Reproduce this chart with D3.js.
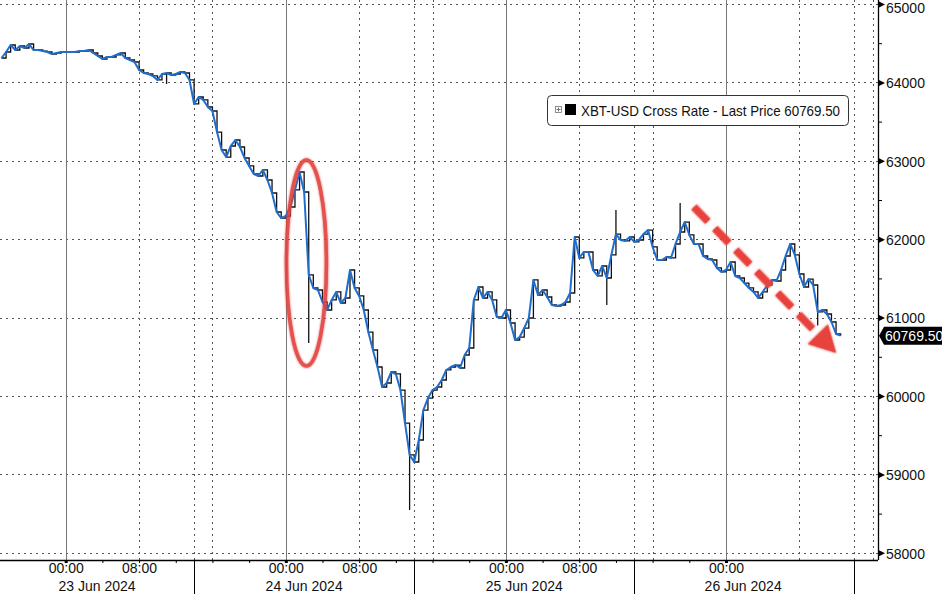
<!DOCTYPE html>
<html><head><meta charset="utf-8">
<script src="https://cdn.jsdelivr.net/npm/d3@7"></script>
<style>
html,body{margin:0;padding:0;background:#fff;}
svg{display:block;font-family:"Liberation Sans",Arial,sans-serif;}
</style></head>
<body><svg id="c" width="942" height="594"></svg>
<script>
// ---- data ----
const seriesName = "XBT-USD Cross Rate - Last Price";
const lastPrice = 60769.50;
const startTime = "2024-06-22T17:00:00Z";   // first point, 30-minute steps
const stepMinutes = 30;
const prices = [
64311,64388,64477,64413,64464,64439,64490,64413,64413,64400,
64388,64362,64375,64388,64388,64388,64388,64400,64400,64413,
64375,64337,64298,64324,64324,64350,64375,64311,64286,64260,
64158,64120,64107,64082,64031,64107,64120,64094,64107,64133,
64120,64031,63725,63814,63776,63686,63635,63367,63138,63048,
63189,63265,63176,63036,62934,62832,62806,62883,62755,62589,
62347,62270,62296,62411,62628,62857,62602,61544,61378,61352,
61199,61097,61225,61327,61186,61250,61607,61378,61276,61097,
60816,60587,60370,60115,60166,60306,60281,60076,59655,59248,
59158,59439,59821,59974,60076,60115,60204,60332,60370,60395,
60357,60523,60612,61225,61390,61250,61327,61225,61008,60995,
61097,60931,60714,60752,60867,60995,61480,61288,61352,61263,
61161,61148,61161,61199,61314,62028,61761,61837,61837,61607,
61531,61658,61505,61799,62066,61990,61978,62028,61965,61990,
62066,62117,61901,61735,61735,61773,61761,61939,62092,62219,
62054,61939,61939,61786,61748,61735,61633,61582,61607,61709,
61531,61505,61441,61378,61327,61250,61327,61416,61480,61467,
61607,61786,61939,61799,61556,61390,61492,61416,61072,61097,
61046,60944,60791,60769.5
];
// notable intraday extremes (wicks)
const wickTimes  = ["2024-06-23T11:00:00Z","2024-06-24T02:30:00Z","2024-06-24T13:30:00Z","2024-06-25T12:00:00Z","2024-06-25T11:00:00Z","2024-06-25T19:00:00Z","2024-06-26T10:00:00Z"];
const wickValues = [63980,60676,58546,62372,61161,62462,60900];
const yTicks = [58000,59000,60000,61000,62000,63000,64000,65000];
const yMinorTicks = [58500,59500,60500,61500,62500,63500,64500];
const dayLabels = ["23 Jun 2024","24 Jun 2024","25 Jun 2024","26 Jun 2024"];
const sectionBreaks = ["2024-06-22T14:00:00Z","2024-06-23T14:00:00Z","2024-06-24T14:00:00Z","2024-06-25T14:00:00Z","2024-06-26T14:00:00Z"];

// ---- build ----
const t0 = new Date(startTime).getTime();
const data = prices.map((v,i)=>({t:new Date(t0+i*stepMinutes*60000), v}));
const wicks = wickTimes.map((t,i)=>({t:new Date(t), v:wickValues[i]}));

const svg = d3.select("#c");
const plotR = 878, plotB = 560;
const x = d3.scaleUtc().domain([new Date("2024-06-23T00:00:00Z"), new Date("2024-06-26T00:00:00Z")]).range([65.7, 726]);
const y = d3.scaleLinear().domain([58000,65000]).range([552.8,4]);

const g = svg.append("g");
// horizontal grid
g.selectAll("line.hg").data(yTicks).join("line")
 .attr("x1",0).attr("x2",plotR).attr("y1",d=>Math.round(y(d))+0.5).attr("y2",d=>Math.round(y(d))+0.5)
 .attr("stroke","#555").attr("stroke-width",1).attr("stroke-dasharray","2,4");
// vertical grid
const vTimes = d3.utcHour.every(8).range(new Date("2024-06-22T16:00:00Z"), new Date("2024-06-26T20:00:00Z"));
g.selectAll("line.vg").data(vTimes).join("line")
 .attr("x1",d=>Math.round(x(d))+0.5).attr("x2",d=>Math.round(x(d))+0.5).attr("y1",0).attr("y2",plotB)
 .attr("stroke",d=>d.getUTCHours()===0?"#777":"#555")
 .attr("stroke-dasharray",d=>d.getUTCHours()===0?null:"2,4");
// section break grid
const breaks = sectionBreaks.map(s=>new Date(s));
g.selectAll("line.sb").data(breaks).join("line")
 .attr("x1",d=>Math.round(x(d))+0.5).attr("x2",d=>Math.round(x(d))+0.5).attr("y1",0).attr("y2",plotB)
 .attr("stroke","#555").attr("stroke-dasharray","2,4");

// wicks
g.selectAll("line.wk").data(wicks).join("line")
 .attr("x1",d=>x(d.t)).attr("x2",d=>x(d.t))
 .attr("y1",d=>{const near=data.reduce((a,b)=>Math.abs(b.t-d.t)<Math.abs(a.t-d.t)?b:a);return y(near.v);})
 .attr("y2",d=>y(d.v)).attr("stroke","#111").attr("stroke-width",1.3);

// black step trace
const step = d3.line().x(d=>x(d.t)).y(d=>y(d.v)).curve(d3.curveStepAfter);
g.append("path").datum(data).attr("d",step).attr("fill","none").attr("stroke","#111").attr("stroke-width",1.3);
// blue line
const line = d3.line().x(d=>x(d.t)).y(d=>y(d.v));
g.append("path").datum(data).attr("d",line).attr("fill","none").attr("stroke","#1f6dcc").attr("stroke-width",2).attr("stroke-linejoin","round");

// right axis
svg.append("line").attr("x1",plotR+0.5).attr("x2",plotR+0.5).attr("y1",0).attr("y2",plotB).attr("stroke","#000").attr("stroke-width",1.3);
const yAxis = d3.axisRight(y).tickValues(yTicks).tickSize(0).tickPadding(8).tickFormat(d3.format("d"));
const ya = svg.append("g").attr("transform",`translate(${plotR},0)`).call(yAxis);
ya.select(".domain").remove();
ya.selectAll("text").attr("font-size",14).attr("fill","#111").attr("dy",d=>d===65000?"0.6em":"0.38em");
ya.selectAll(".tick").append("path").attr("d","M0,-3.5L7,0L0,3.5Z").attr("fill","#000");
const yMinor = d3.axisRight(y).tickValues(yMinorTicks).tickSize(4).tickFormat("");
const ym = svg.append("g").attr("transform",`translate(${plotR},0)`).call(yMinor);
ym.select(".domain").remove();

// bottom axis
const xAxis = d3.axisBottom(x).ticks(d3.utcHour.every(4)).tickSize(3)
  .tickFormat(d=>{const h=d.getUTCHours();return (h===0||h===8)?d3.utcFormat("%H:%M")(d):"";});
const xa = svg.append("g").attr("transform",`translate(0,${plotB})`).call(xAxis);
xa.select(".domain").attr("d",`M0,0.5H${plotR}`).attr("stroke","#000").attr("stroke-width",1.3);
xa.selectAll(".tick line").attr("stroke","#000");
xa.selectAll(".tick").filter(d=>x(d)<0||x(d)>plotR).remove();
xa.selectAll("text").attr("font-size",14).attr("fill","#111").attr("dy","0.5em");
xa.selectAll(".tick").filter(d=>d.getUTCHours()===0).append("rect").attr("x",-1.5).attr("y",0).attr("width",3).attr("height",3).attr("fill","#000");
// section separators under axis
svg.selectAll("line.sep").data(breaks.filter(b=>x(b)>0&&x(b)<plotR)).join("line")
 .attr("x1",d=>Math.round(x(d))+0.5).attr("x2",d=>Math.round(x(d))+0.5).attr("y1",plotB).attr("y2",594)
 .attr("stroke","#000");
// day labels centred in visible section
const lastX = 852;
svg.selectAll("text.day").data(dayLabels).join("text")
 .attr("x",(d,i)=>{const a=Math.max(0,x(breaks[i])),b=Math.min(lastX,x(breaks[i+1]));return (a+b)/2;})
 .attr("y",591).attr("text-anchor","middle").attr("font-size",14).attr("fill","#111").text(d=>d);

// legend
const lg = svg.append("g");
lg.append("rect").attr("x",547.5).attr("y",95.5).attr("width",301).attr("height",30).attr("rx",4)
  .attr("fill","#fff").attr("stroke","#333");
lg.append("rect").attr("x",555.5).attr("y",106.5).attr("width",6).attr("height",6).attr("fill","none").attr("stroke","#777").attr("stroke-width",0.8);
lg.append("path").attr("d","M556.5,109.5h4M558.5,107.5v4").attr("stroke","#555").attr("stroke-width",0.8);
lg.append("rect").attr("x",565).attr("y",104).attr("width",11).attr("height",11).attr("fill","#000");
lg.append("text").attr("x",581).attr("y",115.5).attr("font-size",14.5).attr("fill","#111")
  .attr("textLength",259).attr("lengthAdjust","spacingAndGlyphs")
  .text(`${seriesName} ${d3.format(".2f")(lastPrice)}`);

// last price tag
const ly = y(lastPrice);
svg.append("path").attr("d",`M${plotR+1},${ly}L${plotR+6},${ly-9}H942V${ly+9}H${plotR+6}Z`).attr("fill","#000");
svg.append("text").attr("x",885).attr("y",ly+5).attr("font-size",14).attr("fill","#fff").text(d3.format(".2f")(lastPrice));

// red annotations
const defs = svg.append("defs");
const f = defs.append("filter").attr("id","glow").attr("x","-20%").attr("y","-20%").attr("width","140%").attr("height","140%");
f.append("feGaussianBlur").attr("in","SourceGraphic").attr("stdDeviation",1.2).attr("result","b");
f.append("feMerge").call(m=>{m.append("feMergeNode").attr("in","b");m.append("feMergeNode").attr("in","SourceGraphic");});
const eT = new Date("2024-06-24T02:15:00Z");
svg.append("ellipse").attr("cx",x(eT)).attr("cy",263).attr("rx",20).attr("ry",103)
  .attr("fill","none").attr("stroke","#e0403c").attr("stroke-width",3.5).attr("opacity",0.9).attr("filter","url(#glow)");
const a0 = {t:new Date("2024-06-25T20:30:00Z"), v:62410};
const a1 = {t:new Date("2024-06-26T12:00:00Z"), v:60550};
const ax0=x(a0.t), ay0=y(a0.v), ax1=x(a1.t), ay1=y(a1.v);
const ang = Math.atan2(ay1-ay0, ax1-ax0), L=Math.hypot(ax1-ax0, ay1-ay0), head=26;
const arr = svg.append("g").attr("transform",`translate(${ax0},${ay0}) rotate(${ang*180/Math.PI})`).attr("filter","url(#glow)");
arr.append("line").attr("x1",0).attr("y1",0).attr("x2",L-head).attr("y2",0)
  .attr("stroke","#e8423d").attr("stroke-width",7).attr("stroke-dasharray","20,10");
arr.append("path").attr("d",`M${L-head},-14L${L},0L${L-head},14Z`).attr("fill","#e8423d");
</script></body></html>
